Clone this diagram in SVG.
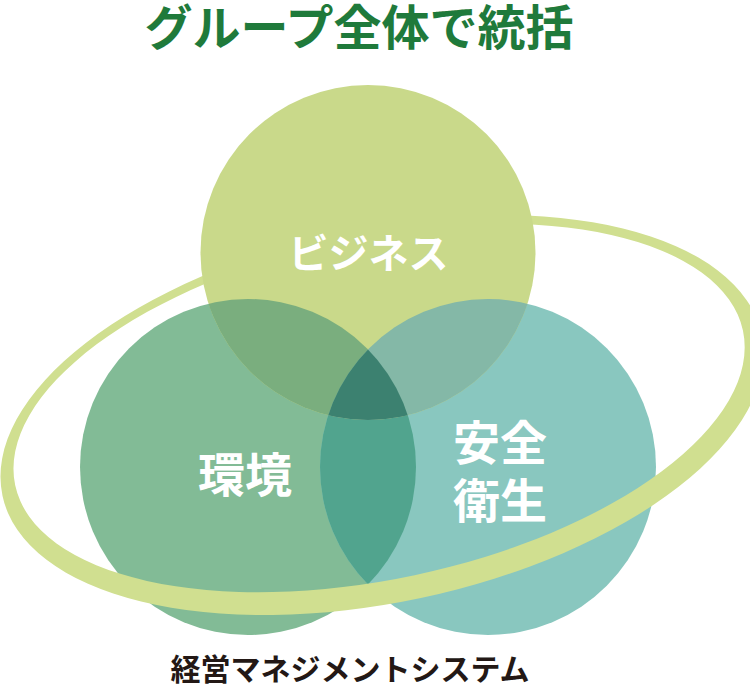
<svg xmlns="http://www.w3.org/2000/svg" width="750" height="689" viewBox="0 0 750 689">
<style>
text{font-family:"Noto Sans CJK JP","Noto Sans",sans-serif;font-weight:700;text-anchor:middle}
.lbl{fill:#ffffff}
</style>
<defs>
<clipPath id="clipL"><circle cx="248" cy="467" r="168"/></clipPath>
<clipPath id="clipR"><circle cx="488" cy="467" r="168"/></clipPath>
<clipPath id="clipT"><circle cx="368" cy="252.5" r="167.5"/></clipPath>
</defs>
<rect width="750" height="689" fill="#ffffff"/>
<text x="359" y="45" font-size="48" fill="#1f7a3b">グループ全体で統括</text>
<g id="node-kankyo">
<circle cx="248" cy="467" r="168" fill="#82bb96"/>
<text class="lbl" x="245" y="492" font-size="47">環境</text>
</g>
<g id="node-anzen">
<circle cx="488" cy="467" r="168" fill="#89c7bf"/>
<text class="lbl" x="500" y="460" font-size="47"><tspan x="500" y="460">安全</tspan><tspan x="500" y="518">衛生</tspan></text>
</g>
<g id="overlap-kankyo-anzen">
<circle cx="488" cy="467" r="168" fill="#51a48e" clip-path="url(#clipL)"/>
</g>
<g id="ring" transform="translate(382 415) rotate(-12)">
<path fill="#d0df90" fill-rule="evenodd" d="M-388 0A388 187 0 1 0 388 0A388 187 0 1 0 -388 0Z M-373.4 -7.5A372 171 0 1 0 370.6 -7.5A372 171 0 1 0 -373.4 -7.5Z"/>
</g>
<g id="node-business">
<circle cx="368" cy="252.5" r="167.5" fill="#c9d98a"/>
<circle cx="368" cy="252.5" r="167.5" fill="#7aae7e" clip-path="url(#clipL)"/>
<circle cx="368" cy="252.5" r="167.5" fill="#84b8a7" clip-path="url(#clipR)"/>
<g clip-path="url(#clipL)"><circle cx="368" cy="252.5" r="167.5" fill="#3c8170" clip-path="url(#clipR)"/></g>
<text class="lbl" x="368.5" y="268" font-size="40">ビジネス</text>
</g>
<text x="350" y="680" font-size="30" fill="#231815">経営マネジメントシステム</text>
</svg>
